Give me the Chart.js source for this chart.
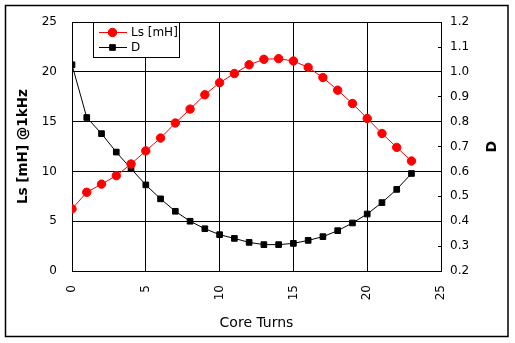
<!DOCTYPE html>
<html>
<head>
<meta charset="utf-8">
<script src="https://cdn.jsdelivr.net/npm/chart.js@4"></script>
<style>
html,body{margin:0;padding:0;background:#fff;}
#wrap{width:515px;height:343px;position:relative;}
</style>
</head>
<body>
<div id="wrap"><canvas id="c" width="515" height="343"></canvas></div>
<script>
const turns = [0,1,2,3,4,5,6,7,8,9,10,11,12,13,14,15,16,17,18,19,20,21,22,23];
const lsValues = [6.24,7.91,8.73,9.58,10.75,12.07,13.36,14.87,16.27,17.71,18.92,19.84,20.72,21.27,21.34,21.10,20.46,19.44,18.17,16.83,15.33,13.82,12.42,11.05];
const dValues = [1.029,0.817,0.752,0.678,0.611,0.546,0.490,0.440,0.400,0.370,0.346,0.331,0.315,0.306,0.306,0.311,0.323,0.338,0.362,0.393,0.429,0.475,0.528,0.592];
const seriesLabels = ['Ls [mH]','D'];
const xTitle = 'Core Turns';
const yTitle = 'Ls [mH] @1kHz';
const y2Title = 'D';

const FONT = 'DejaVu Sans';

const framePlugin = {
  id: 'frame',
  afterDraw(chart) {
    const ctx = chart.ctx;
    ctx.save();
    ctx.strokeStyle = '#000';
    ctx.lineWidth = 1.5;
    ctx.strokeRect(5.5, 5.5, 502.5, 331);
    ctx.fillStyle = '#000';
    ctx.font = 'bold 14px ' + FONT;
    ctx.textAlign = 'center';
    ctx.textBaseline = 'middle';
    ctx.translate(492, (chart.chartArea.top + chart.chartArea.bottom) / 2);
    ctx.rotate(-Math.PI / 2);
    ctx.fillText(y2Title, 0, 0);
    ctx.restore();

    ctx.save();
    const bx = 93.5, by = 22.5, bw = 86, bh = 35;
    ctx.fillStyle = '#fff';
    ctx.fillRect(bx, by, bw, bh);
    ctx.strokeStyle = '#000';
    ctx.lineWidth = 1;
    ctx.strokeRect(bx, by, bw, bh);
    const rows = [32, 47];
    chart.data.datasets.forEach((ds, i) => {
      const yy = rows[i] + 0.5;
      ctx.strokeStyle = ds.borderColor;
      ctx.lineWidth = 1;
      ctx.beginPath();
      ctx.moveTo(99, yy);
      ctx.lineTo(127, yy);
      ctx.stroke();
      ctx.fillStyle = ds.pointBackgroundColor;
      ctx.strokeStyle = ds.pointBorderColor;
      Chart.helpers.drawPoint(ctx, {pointStyle: ds.pointStyle, rotation: 0, borderWidth: 1, radius: ds.pointRadius}, 112.5, yy);
      ctx.fillStyle = '#000';
      ctx.font = '12px ' + FONT;
      ctx.textAlign = 'left';
      ctx.textBaseline = 'middle';
      ctx.fillText(ds.label, 131, yy);
    });
    ctx.restore();
  }
};

new Chart(document.getElementById('c'), {
  type: 'line',
  data: {
    datasets: [
      {
        label: seriesLabels[0],
        data: turns.map((t, i) => ({x: t, y: lsValues[i]})),
        yAxisID: 'y',
        borderColor: '#ff0000',
        backgroundColor: '#ff0000',
        pointBackgroundColor: '#ff0000',
        pointBorderColor: '#ff0000',
        pointStyle: 'circle',
        pointRadius: 4.2,
        borderWidth: 1,
        tension: 0
      },
      {
        label: seriesLabels[1],
        data: turns.map((t, i) => ({x: t, y: dValues[i]})),
        yAxisID: 'y2',
        borderColor: '#000000',
        backgroundColor: '#000000',
        pointBackgroundColor: '#000000',
        pointBorderColor: '#000000',
        pointStyle: 'rect',
        pointRadius: 4,
        borderWidth: 1,
        tension: 0
      }
    ]
  },
  options: {
    responsive: false,
    devicePixelRatio: 1,
    animation: false,
    layout: {padding: {top: 16, left: 0, right: 0, bottom: 0}},
    plugins: {legend: {display: false}, tooltip: {enabled: false}},
    scales: {
      x: {
        type: 'linear',
        position: 'bottom',
        min: 0, max: 25,
        ticks: {stepSize: 5, maxRotation: 90, minRotation: 90, padding: 14, color: '#000', font: {family: FONT, size: 12}},
        grid: {color: '#000', lineWidth: 1, drawTicks: false},
        border: {display: true, color: '#000', width: 1},
        title: {display: true, text: xTitle, color: '#000', font: {family: FONT, size: 14, weight: 'normal'}, padding: {top: 0, bottom: 11.5}},
        afterFit(s) { s.height = 72; }
      },
      y: {
        type: 'linear',
        position: 'left',
        min: 0, max: 25,
        ticks: {stepSize: 5, padding: 15, color: '#000', font: {family: FONT, size: 12}},
        grid: {color: '#000', lineWidth: 1, drawTicks: false},
        border: {display: true, color: '#000', width: 1},
        title: {display: true, text: yTitle, color: '#000', font: {family: FONT, size: 13.5, weight: 'bold'}, padding: {top: 15, bottom: 0}},
        afterFit(s) { s.width = 72; }
      },
      y2: {
        type: 'linear',
        position: 'right',
        min: 0.2, max: 1.2,
        ticks: {stepSize: 0.1, padding: 12, color: '#000', font: {family: FONT, size: 12}, callback: v => Number(v).toFixed(1)},
        grid: {drawOnChartArea: false, drawTicks: true, tickLength: -3, color: '#000', lineWidth: 1},
        border: {display: true, color: '#000', width: 1},
        afterFit(s) { s.width = 74; }
      }
    }
  },
  plugins: [framePlugin]
});
</script>
</body>
</html>
